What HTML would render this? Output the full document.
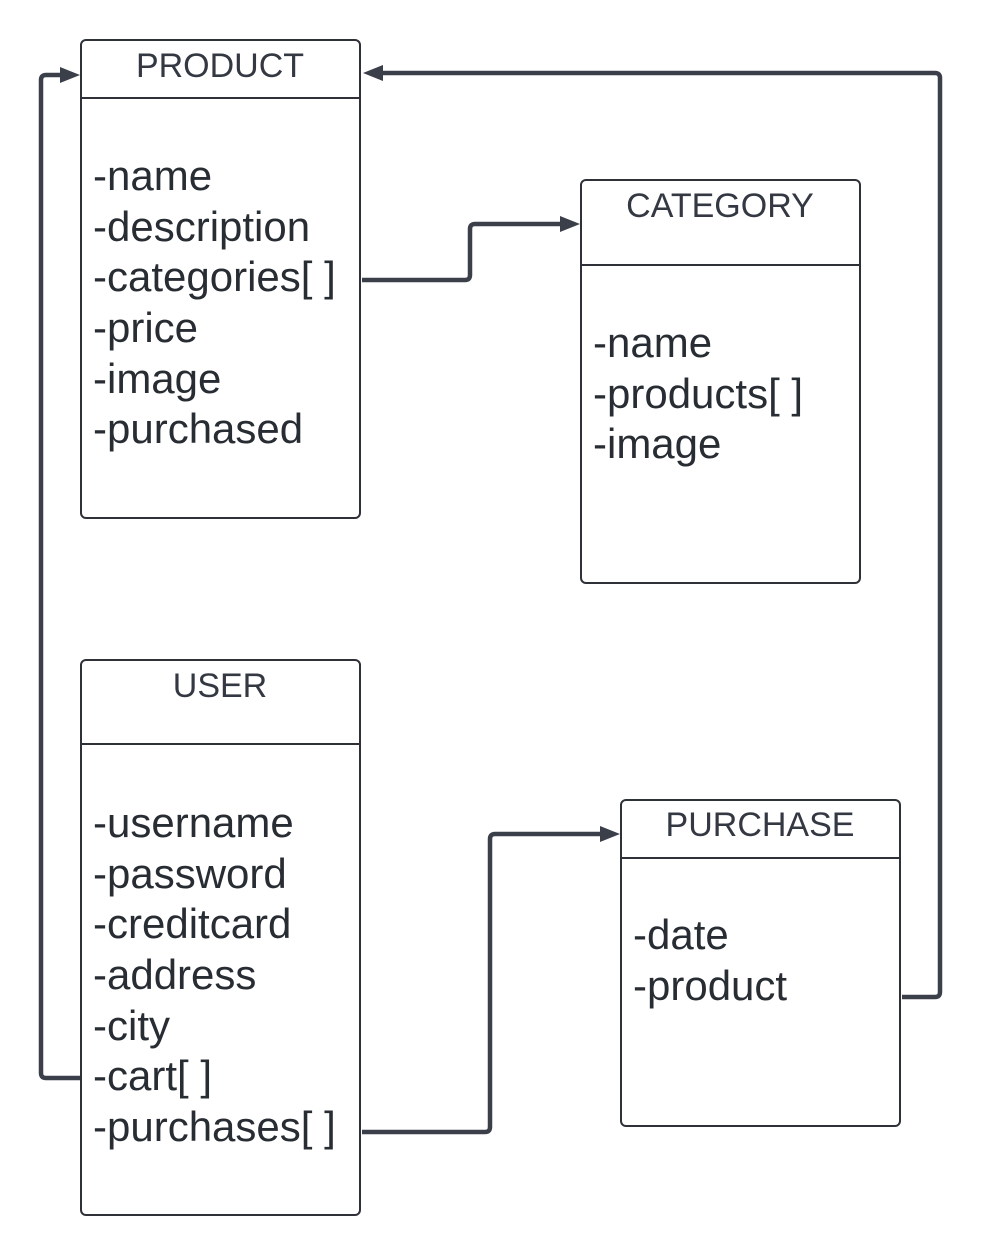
<!DOCTYPE html>
<html><head><meta charset="utf-8"><style>
html,body{margin:0;padding:0;background:#fff;}
svg{display:block;}
.t{font-family:"Liberation Sans",sans-serif;font-size:34px;fill:#343842;text-anchor:middle;}
.b{font-family:"Liberation Sans",sans-serif;font-size:42px;fill:#282c33;}
.box{fill:#fff;stroke:#2e3138;stroke-width:2;}
.ln{stroke:#2e3138;stroke-width:2;}
.c{fill:none;stroke:#3b3f4a;stroke-width:4.5;stroke-linejoin:round;}
.a{fill:#3b3f4a;}
</style></head><body>
<svg width="982" height="1256" viewBox="0 0 982 1256">
<!-- connectors -->
<path class="c" d="M81,1078 H46 Q41,1078 41,1073 V80 Q41,75 46,75 H62"/>
<polygon class="a" points="80,75 60,67 60,83"/>
<path class="c" d="M902,997 H935 Q940,997 940,992 V78 Q940,73 935,73 H382"/>
<polygon class="a" points="363,73 383,65 383,81"/>
<path class="c" d="M362,280 H465 Q470,280 470,275 V229 Q470,224 475,224 H562"/>
<polygon class="a" points="580,224 560,216 560,232"/>
<path class="c" d="M362,1132 H485 Q490,1132 490,1127 V839 Q490,834 495,834 H602"/>
<polygon class="a" points="620,834 600,826 600,842"/>
<!-- PRODUCT -->
<rect class="box" x="81" y="40" width="279" height="478" rx="5"/>
<line class="ln" x1="81" y1="98" x2="360" y2="98"/>
<text class="t" x="220" y="77">PRODUCT</text>
<text class="b" x="93" y="190">-name</text>
<text class="b" x="93" y="241">-description</text>
<text class="b" x="93" y="291">-categories[ ]</text>
<text class="b" x="93" y="342">-price</text>
<text class="b" x="93" y="393">-image</text>
<text class="b" x="93" y="443">-purchased</text>
<!-- CATEGORY -->
<rect class="box" x="581" y="180" width="279" height="403" rx="5"/>
<line class="ln" x1="581" y1="265" x2="860" y2="265"/>
<text class="t" x="720" y="217">CATEGORY</text>
<text class="b" x="593" y="357">-name</text>
<text class="b" x="593" y="408">-products[ ]</text>
<text class="b" x="593" y="458">-image</text>
<!-- USER -->
<rect class="box" x="81" y="660" width="279" height="555" rx="5"/>
<line class="ln" x1="81" y1="744" x2="360" y2="744"/>
<text class="t" x="220" y="697">USER</text>
<text class="b" x="93" y="837">-username</text>
<text class="b" x="93" y="888">-password</text>
<text class="b" x="93" y="938">-creditcard</text>
<text class="b" x="93" y="989">-address</text>
<text class="b" x="93" y="1040">-city</text>
<text class="b" x="93" y="1090">-cart[ ]</text>
<text class="b" x="93" y="1141">-purchases[ ]</text>
<!-- PURCHASE -->
<rect class="box" x="621" y="800" width="279" height="326" rx="5"/>
<line class="ln" x1="621" y1="858" x2="900" y2="858"/>
<text class="t" x="760" y="836">PURCHASE</text>
<text class="b" x="633" y="949">-date</text>
<text class="b" x="633" y="1000">-product</text>
</svg>
</body></html>
